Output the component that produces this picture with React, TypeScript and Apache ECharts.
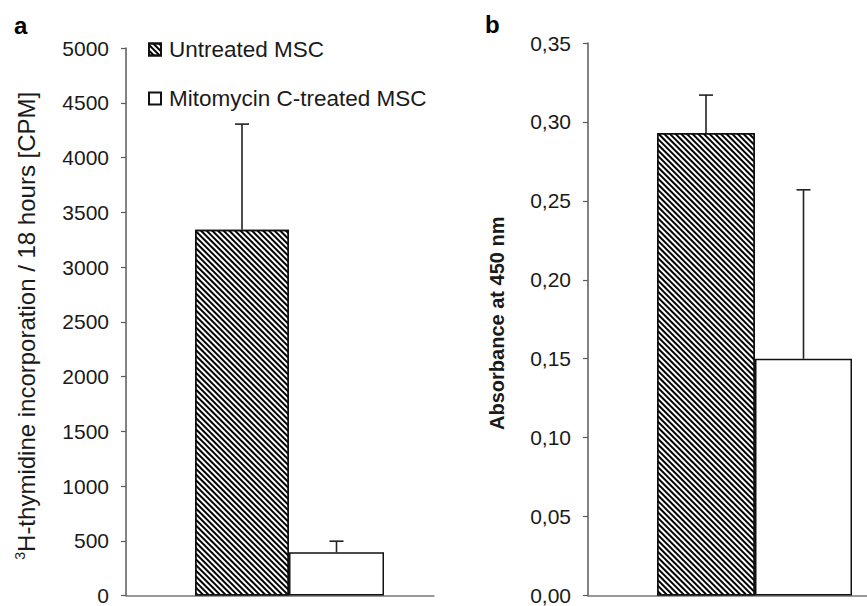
import React, { useEffect, useRef } from "react";
import * as echarts from "echarts";

const seriesNames = ["Untreated MSC", "Mitomycin C-treated MSC"];
const panelACategories = ["MSC"];
const panelAMeans = [3340, 395];
const panelAErrorTops = [4305, 496];
const panelBCategories = ["MSC"];
const panelBMeans = [0.293, 0.15];
const panelBErrorTops = [0.317, 0.257];
const panelATicks = { min: 0, max: 5000, interval: 500 };
const panelBTicks = { min: 0, max: 0.35, interval: 0.05 };

const FONT = "'Liberation Sans', Arial, Helvetica, sans-serif";
const AXIS_COLOR = "#5a5a5a";
const TEXT_COLOR = "#1a1a1a";

// bar widths (px): [spacer, untreated, mitomycin]
const widthsA = [19, 94, 95];
const widthsB = [54, 98, 97];

function offsets(widths: number[]) {
  const total = widths.reduce((a, b) => a + b, 0);
  const res: number[] = [];
  let acc = -total / 2;
  for (const w of widths) {
    res.push(acc + w / 2);
    acc += w;
  }
  return res;
}

const hatch = {
  symbol: "rect",
  symbolSize: 1,
  dashArrayX: [1, 0],
  dashArrayY: [1.7, 1.7],
  rotation: Math.PI / 4,
  color: "#000",
  backgroundColor: "#fff",
};

export default function App() {
  const ref = useRef<HTMLDivElement>(null);
  useEffect(() => {
    if (!ref.current) return;
    const chart = echarts.init(ref.current, null, { renderer: "svg" });
    const offA = offsets(widthsA);
    const offB = offsets(widthsB);

    const yAxisCommon = (ticks: any, fmt: (v: number) => string) => ({
      type: "value",
      min: ticks.min,
      max: ticks.max,
      interval: ticks.interval,
      splitLine: { show: false },
      axisLine: { show: true, lineStyle: { color: AXIS_COLOR, width: 1.5 } },
      axisTick: { show: true, inside: false, length: 5, lineStyle: { color: AXIS_COLOR, width: 1.2 } },
      axisLabel: { fontSize: 21, fontFamily: FONT, color: TEXT_COLOR, margin: 17, formatter: fmt },
    });

    const xAxisCommon = (cats: string[], gridIndex: number) => ({
      type: "category",
      gridIndex,
      data: cats,
      axisLine: { show: true, lineStyle: { color: "#777", width: 1.5 } },
      axisTick: { show: false },
      axisLabel: { show: false },
    });

    const barSeries = (
      gridIdx: number,
      means: number[],
      widths: number[]
    ) => [
      {
        name: "_spacer" + gridIdx,
        type: "bar",
        xAxisIndex: gridIdx,
        yAxisIndex: gridIdx,
        barWidth: widths[0],
        barGap: "0%",
        data: [0],
        silent: true,
        itemStyle: { color: "transparent", borderWidth: 0 },
      },
      {
        name: seriesNames[0],
        type: "bar",
        xAxisIndex: gridIdx,
        yAxisIndex: gridIdx,
        barWidth: widths[1],
        barGap: "0%",
        data: [means[0]],
        itemStyle: { color: "#fff", borderColor: "#111", borderWidth: 1.5, decal: hatch },
      },
      {
        name: seriesNames[1],
        type: "bar",
        xAxisIndex: gridIdx,
        yAxisIndex: gridIdx,
        barWidth: widths[2],
        barGap: "0%",
        data: [means[1]],
        itemStyle: { color: "#fff", borderColor: "#111", borderWidth: 1.5 },
      },
    ];

    const errorSeries = (
      gridIdx: number,
      means: number[],
      tops: number[],
      offs: number[]
    ) => ({
      type: "custom",
      xAxisIndex: gridIdx,
      yAxisIndex: gridIdx,
      silent: true,
      z: 5,
      encode: { x: 0, y: [1, 2] },
      data: means.map((m, i) => [0, m, tops[i], offs[i + 1]]),
      renderItem: (params: any, api: any) => {
        const base = api.coord([api.value(0), api.value(1)]);
        const top = api.coord([api.value(0), api.value(2)]);
        const x = base[0] + api.value(3);
        const style = { stroke: "#222", lineWidth: 1.6 };
        return {
          type: "group",
          children: [
            { type: "line", shape: { x1: x, y1: base[1], x2: x, y2: top[1] }, style },
            { type: "line", shape: { x1: x - 7, y1: top[1], x2: x + 7, y2: top[1] }, style },
          ],
        };
      },
    });

    chart.setOption({
      animation: false,
      backgroundColor: "#fff",
      textStyle: { fontFamily: FONT },
      grid: [
        { left: 126, top: 48, width: 308, height: 554 },
        { left: 588, top: 43, width: 279, height: 559 },
      ],
      legend: {
        data: seriesNames,
        orient: "vertical",
        left: 143,
        top: 33,
        itemWidth: 12,
        itemHeight: 12,
        itemGap: 26,
        icon: "rect",
        selectedMode: false,
        textStyle: { fontSize: 22.5, fontFamily: FONT, color: TEXT_COLOR, padding: [0, 0, 0, 3] },
      },
      xAxis: [xAxisCommon(panelACategories, 0), xAxisCommon(panelBCategories, 1)],
      yAxis: [
        {
          ...yAxisCommon(panelATicks, (v: number) => String(v)),
          gridIndex: 0,
          name: "{sup|3}H-thymidine incorporation / 18 hours [CPM]",
          nameLocation: "middle",
          nameGap: 87,
          nameTextStyle: {
            fontSize: 24,
            fontFamily: FONT,
            color: TEXT_COLOR,
            padding: [0, 8, 0, 0],
            lineHeight: 26,
            rich: {
              sup: { fontSize: 14, lineHeight: 26, verticalAlign: "top", fontFamily: FONT, color: TEXT_COLOR, padding: [0, 0, 8, 0] },
            },
          },
        },
        {
          ...yAxisCommon(panelBTicks, (v: number) => v.toFixed(2).replace(".", ",")),
          gridIndex: 1,
          name: "Absorbance at 450 nm",
          nameLocation: "middle",
          nameGap: 81,
          nameTextStyle: { fontSize: 20, fontFamily: FONT, color: TEXT_COLOR, fontWeight: "bold", padding: [0, 8, 0, 0] },
        },
      ],
      graphic: [
        { type: "text", left: 14, top: 13, style: { text: "a", fontSize: 24, fontWeight: "bold", fontFamily: FONT, fill: "#000" } },
        { type: "text", left: 485, top: 12, style: { text: "b", fontSize: 24, fontWeight: "bold", fontFamily: FONT, fill: "#000" } },
      ],
      series: [
        ...barSeries(0, panelAMeans, widthsA),
        ...barSeries(1, panelBMeans, widthsB),
        errorSeries(0, panelAMeans, panelAErrorTops, offA),
        errorSeries(1, panelBMeans, panelBErrorTops, offB),
      ],
    });
    return () => chart.dispose();
  }, []);
  return (
    <div
      ref={ref}
      style={{ position: "absolute", left: 0, top: 0, width: 867, height: 606 }}
    />
  );
}
